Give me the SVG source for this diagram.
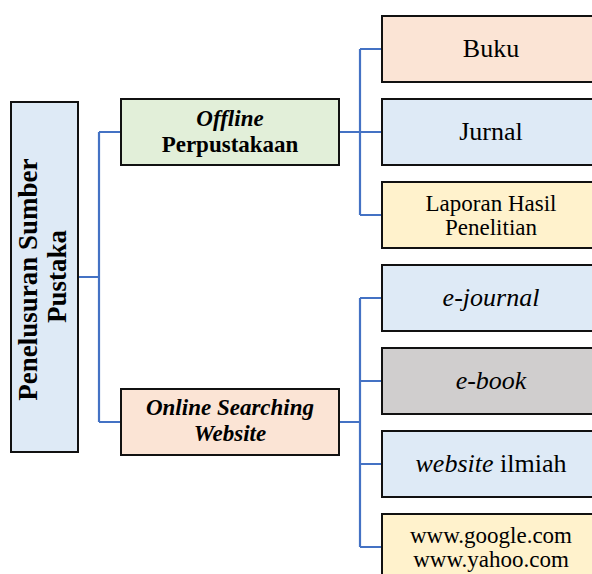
<svg xmlns="http://www.w3.org/2000/svg" width="592" height="574" viewBox="0 0 592 574">
  <style>
    .box { stroke: #111; stroke-width: 2; }
    .blue { fill: #deeaf6; }
    .green { fill: #e2efd9; }
    .peach { fill: #fbe4d5; }
    .yellow { fill: #fff2cc; }
    .grey { fill: #d0cece; }
    text { font-family: "Liberation Serif", "Times New Roman", serif; fill: #000; text-anchor: middle; }
    .b { font-weight: bold; }
    .i { font-style: italic; }
    .t1 { font-size: 26px; }
    .t2 { font-size: 23px; }
    .link { fill: none; stroke: #4472c4; stroke-width: 2.2; }
  </style>

  <!-- connectors -->
  <g id="connectors">
    <path class="link" d="M78 277 H99 M99 132 V422 M99 132 H121 M99 422 H121"/>
    <path class="link" d="M339 132 H382 M360 49 V215 M360 49 H382 M360 215 H382"/>
    <path class="link" d="M339 422 H360 M360 298 V547 M360 298 H382 M360 381 H382 M360 464 H382 M360 547 H382"/>
  </g>

  <!-- root -->
  <g id="root">
    <rect class="box blue" x="11" y="102" width="67" height="350"/>
    <text class="b" font-size="27" transform="translate(37,276.5) rotate(-90)">
      <tspan x="0" y="0">Penelusuran Sumber</tspan>
      <tspan x="0" y="29">Pustaka</tspan>
    </text>
  </g>

  <g id="offline">
    <rect class="box green" x="121" y="99" width="218" height="66"/>
    <text class="b t2" x="230" y="126"><tspan class="i">Offline</tspan></text>
    <text class="b t2" x="230" y="152">Perpustakaan</text>
  </g>

  <g id="online">
    <rect class="box peach" x="121" y="389" width="218" height="66"/>
    <text class="b i t2" x="230" y="415">Online Searching</text>
    <text class="b i t2" x="230" y="441">Website</text>
  </g>

  <g id="buku">
    <rect class="box peach" x="382" y="16" width="220" height="66"/>
    <text class="t1" x="491" y="57">Buku</text>
  </g>

  <g id="jurnal">
    <rect class="box blue" x="382" y="99" width="220" height="66"/>
    <text class="t1" x="491" y="140">Jurnal</text>
  </g>

  <g id="laporan">
    <rect class="box yellow" x="382" y="182" width="220" height="66"/>
    <text class="t2" x="491" y="211">Laporan Hasil</text>
    <text class="t2" x="491" y="235">Penelitian</text>
  </g>

  <g id="ejournal">
    <rect class="box blue" x="382" y="265" width="220" height="66"/>
    <text class="t1 i" x="491" y="306">e-journal</text>
  </g>

  <g id="ebook">
    <rect class="box grey" x="382" y="348" width="220" height="66"/>
    <text class="t1 i" x="491" y="389">e-book</text>
  </g>

  <g id="website">
    <rect class="box blue" x="382" y="431" width="220" height="66"/>
    <text class="t1" x="491" y="472"><tspan class="i">website</tspan> ilmiah</text>
  </g>

  <g id="search-engines">
    <rect class="box yellow" x="382" y="514" width="220" height="70"/>
    <text class="t2" x="491" y="543">www.google.com</text>
    <text class="t2" x="491" y="567">www.yahoo.com</text>
  </g>
</svg>
